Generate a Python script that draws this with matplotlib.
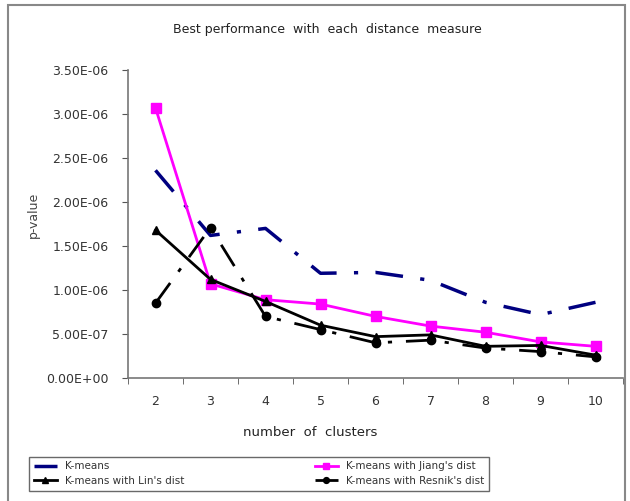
import matplotlib.pyplot as plt
from matplotlib.patches import Rectangle

clusters = [2, 3, 4, 5, 6, 7, 8, 9, 10]
kmeans = [2.36e-6, 1.62e-6, 1.70e-6, 1.19e-6, 1.20e-6, 1.11e-6, 0.86e-6, 0.72e-6, 0.86e-6]
jiang = [3.07e-6, 1.07e-6, 0.89e-6, 0.84e-6, 0.70e-6, 0.59e-6, 0.52e-6, 0.41e-6, 0.36e-6]
lin = [1.68e-6, 1.12e-6, 0.87e-6, 0.60e-6, 0.47e-6, 0.49e-6, 0.36e-6, 0.37e-6, 0.26e-6]
resnik = [0.85e-6, 1.71e-6, 0.70e-6, 0.55e-6, 0.40e-6, 0.43e-6, 0.34e-6, 0.30e-6, 0.24e-6]
yticks = [0, 0.5e-6, 1.0e-6, 1.5e-6, 2.0e-6, 2.5e-6, 3.0e-6, 3.5e-6]
ylabels = ["0.00E+00", "5.00E-07", "1.00E-06", "1.50E-06", "2.00E-06",
           "2.50E-06", "3.00E-06", "3.50E-06"]

plt.rcParams['font.family'] = ['DejaVu Sans']
fig = plt.figure(figsize=(6.3, 5.01), dpi=100)
fig.patches.append(Rectangle((8 / 630, -0.01), 617 / 630, 1 - 5 / 501 + 0.01,
                             transform=fig.transFigure, fill=False,
                             edgecolor='#888888', lw=1.5))

ax = fig.add_axes([128 / 630, 1 - 378 / 501, 495 / 630, 308 / 501])
x = list(range(len(clusters)))

h1, = ax.plot(x, kmeans, color='#000080', lw=2.5, dashes=(8, 5, 1.2, 5),
              label='K-means')
h2, = ax.plot(x, jiang, color='#ff00ff', lw=2, marker='s', ms=7,
              label="K-means with Jiang's dist")
h3, = ax.plot(x, lin, color='black', lw=2, marker='^', ms=6,
              label="K-means with Lin's dist")
h4, = ax.plot(x, resnik, color='black', lw=2, marker='o', ms=6,
              dashes=(9, 5, 1.5, 5), label="K-means with Resnik's dist")

ax.set_xlim(-0.5, len(clusters) - 0.5)
ax.set_ylim(0, 3.5e-6)
ax.set_xticks(x)
ax.set_xticklabels([str(c) for c in clusters], fontsize=9, color='#333333')
ax.set_xticks([i + 0.5 for i in range(-1, len(clusters))], minor=True)
ax.tick_params(axis='x', which='major', length=0, pad=12)
ax.tick_params(axis='x', which='minor', length=4, direction='out', color='#555555')
ax.set_yticks(yticks)
ax.set_yticklabels(ylabels, fontsize=9, color='#333333')
ax.tick_params(axis='y', length=4, direction='out', color='#555555', pad=10)

for s in ['top', 'right']:
    ax.spines[s].set_visible(False)
for s in ['left', 'bottom']:
    ax.spines[s].set_color('#777777')
    ax.spines[s].set_linewidth(1.2)

fig.text(327 / 630, 1 - 30 / 501, 'Best performance  with  each  distance  measure',
         ha='center', va='center', fontsize=9, color='#222222')
fig.text(33 / 630, 1 - 215 / 501, 'p-value', rotation=90, ha='center',
         va='center', fontsize=9, color='#444444')
fig.text(310 / 630, 1 - 432 / 501, 'number  of  clusters', ha='center',
         va='center', fontsize=9.5, color='#222222')

leg = fig.legend([h1, h3, h2, h4], [h.get_label() for h in [h1, h3, h2, h4]],
                 loc='lower left', bbox_to_anchor=(24 / 630, 5 / 501, 470 / 630, 41 / 501),
                 mode='expand', ncol=2, fontsize=7.5, frameon=True, fancybox=False,
                 handlelength=2.2, labelspacing=0.45, borderpad=0.45,
                 columnspacing=1.0, markerscale=0.7)
leg.get_frame().set_edgecolor('#444444')
leg.get_frame().set_linewidth(1)
for t in leg.get_texts():
    t.set_color('#333333')

fig.savefig('out.png', dpi=100)
